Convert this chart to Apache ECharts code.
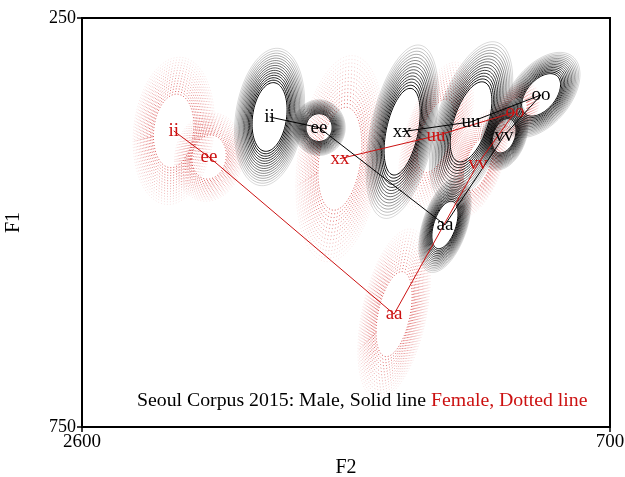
<!DOCTYPE html>
<html>
<head>
<meta charset="utf-8">
<script src="https://cdn.jsdelivr.net/npm/echarts@6/dist/echarts.min.js"></script>
<style>html,body{margin:0;padding:0;background:#fff;}#c{width:625px;height:477px;}</style>
</head>
<body>
<div id="c"></div>
<script>
// Vowel order along the connecting line
const vowels = ['ii', 'ee', 'aa', 'vv', 'oo', 'uu', 'xx'];

// Male (solid) : means and spread of F2, F1 (Hz)
const maleF2   = [1925, 1747, 1294, 1081, 948, 1200, 1448];
const maleF1   = [371, 384, 503, 394, 344, 377, 389];
const maleSdF2 = [63, 47, 47, 43, 70, 75, 65];
const maleSdF1 = [42, 17, 29, 21, 26, 49, 53];
const maleRho  = [0.21, 0.0, 0.47, 0.31, 0.48, 0.52, 0.44];

// Female (dotted)
const femaleF2   = [2270, 2143, 1477, 1175, 1042, 1326, 1672];
const femaleF1   = [388, 420, 612, 428, 365, 394, 422];
const femaleSdF2 = [73, 62, 65, 53, 44, 67, 79];
const femaleSdF1 = [45, 27, 52, 33, 18, 45, 63];
const femaleRho  = [0.14, 0.09, 0.43, 0.52, 0.42, 0.53, 0.27];

// Axis ticks
const f2Ticks = [2600, 700];
const f1Ticks = [250, 750];

const RINGS = 15;
const SERIF = "'Liberation Serif', 'DejaVu Serif', 'Times New Roman', serif";
const RED = '#cc1111';

function ellipseData(f2, f1, s2, s1, rho) {
  return vowels.map((v, i) => [f2[i], f1[i], s2[i], s1[i], rho[i]]);
}
function pointData(f2, f1) {
  return vowels.map((v, i) => ({ value: [f2[i], f1[i]], name: v }));
}

function ellipseRenderer(color, dashed, op0, op1) {
  return function (params, api) {
    const cx = api.value(0), cy = api.value(1);
    const s2 = api.value(2), s1 = api.value(3), r = api.value(4);
    const q = Math.sqrt(1 - r * r);
    const children = [];
    for (let i = 0; i < RINGS; i++) {
      const k = 1 + i / (RINGS - 1);
      const pts = [];
      for (let j = 0; j <= 90; j++) {
        const t = j / 90 * 2 * Math.PI;
        pts.push(api.coord([cx + k * s2 * Math.cos(t),
                            cy + k * s1 * (r * Math.cos(t) + q * Math.sin(t))]));
      }
      children.push({
        type: 'polyline',
        shape: { points: pts },
        style: {
          stroke: color, fill: null, lineWidth: 1,
          opacity: op0 + (op1 - op0) * i / (RINGS - 1),
          lineDash: dashed ? [1, 2] : null
        },
        silent: true
      });
    }
    return { type: 'group', children: children };
  };
}

function labelRenderer(color) {
  return function (params, api) {
    const p = api.coord([api.value(0), api.value(1)]);
    return {
      type: 'text',
      x: p[0], y: p[1],
      style: {
        text: vowels[params.dataIndex],
        fill: color,
        font: '19px ' + SERIF,
        align: 'center',
        verticalAlign: 'middle'
      },
      silent: true
    };
  };
}

const chart = echarts.init(document.getElementById('c'), null, { renderer: 'canvas' });
chart.setOption({
  animation: false,
  backgroundColor: '#fff',
  grid: {
    left: 82, right: 15, top: 18, bottom: 50,
    outerBoundsMode: 'none', containLabel: false,
    show: true, borderColor: '#000', borderWidth: 2, backgroundColor: 'transparent'
  },
  xAxis: {
    type: 'value', min: 700, max: 2600, inverse: true,
    name: 'F2', nameLocation: 'middle', nameGap: 31,
    nameTextStyle: { color: '#000', fontFamily: SERIF, fontSize: 20 },
    axisLine: { show: true, onZero: false, lineStyle: { color: '#000', width: 2 } },
    axisTick: { show: true, length: 5, customValues: f2Ticks, lineStyle: { color: '#000', width: 1.5 } },
    axisLabel: { customValues: f2Ticks, formatter: v => String(v), color: '#000', fontFamily: SERIF, fontSize: 19, margin: 6 },
    splitLine: { show: false }
  },
  yAxis: {
    type: 'value', min: 250, max: 750, inverse: true,
    name: 'F1', nameLocation: 'middle', nameGap: 58,
    nameTextStyle: { color: '#000', fontFamily: SERIF, fontSize: 20 },
    axisLine: { show: true, onZero: false, lineStyle: { color: '#000', width: 2 } },
    axisTick: { show: true, length: 5, customValues: f1Ticks, lineStyle: { color: '#000', width: 1.5 } },
    axisLabel: { customValues: f1Ticks, formatter: v => String(v), color: '#000', fontFamily: SERIF, fontSize: 18, margin: 6 },
    splitLine: { show: false }
  },
  series: [
    {
      type: 'custom', name: 'female ellipses', z: 1, silent: true, clip: true,
      encode: { x: 0, y: 1 },
      renderItem: ellipseRenderer(RED, true, 0.7, 0.1),
      data: ellipseData(femaleF2, femaleF1, femaleSdF2, femaleSdF1, femaleRho)
    },
    {
      type: 'custom', name: 'male ellipses', z: 2, silent: true, clip: true,
      encode: { x: 0, y: 1 },
      renderItem: ellipseRenderer('#000', false, 1, 0.15),
      data: ellipseData(maleF2, maleF1, maleSdF2, maleSdF1, maleRho)
    },
    {
      type: 'line', name: 'female line', z: 3, symbol: 'none', silent: true,
      lineStyle: { color: RED, width: 1 },
      data: pointData(femaleF2, femaleF1)
    },
    {
      type: 'line', name: 'male line', z: 3, symbol: 'none', silent: true,
      lineStyle: { color: '#000', width: 1 },
      data: pointData(maleF2, maleF1)
    },
    {
      type: 'custom', name: 'female labels', z: 5,
      encode: { x: 0, y: 1 },
      renderItem: labelRenderer(RED),
      data: pointData(femaleF2, femaleF1)
    },
    {
      type: 'custom', name: 'male labels', z: 5,
      encode: { x: 0, y: 1 },
      renderItem: labelRenderer('#000'),
      data: pointData(maleF2, maleF1)
    }
  ],
  graphic: [{
    type: 'text', left: 137, top: 391, z: 10,
    style: {
      text: '{a|Seoul Corpus 2015: Male, Solid line }{b|Female, Dotted line}',
      rich: {
        a: { fill: '#000', font: '19.8px ' + SERIF },
        b: { fill: RED, font: '19.8px ' + SERIF }
      }
    }
  }]
});
</script>
</body>
</html>
